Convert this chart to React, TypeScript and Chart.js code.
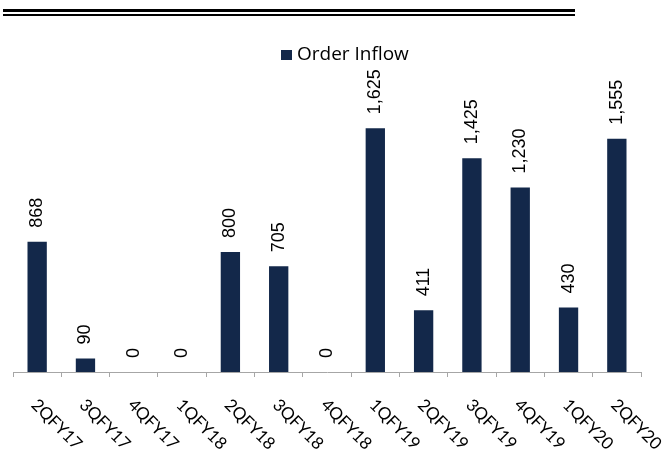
import React, { useEffect, useRef } from "react";
import { Chart, registerables } from "chart.js";

Chart.register(...registerables);

const categories = [
  "2QFY17", "3QFY17", "4QFY17", "1QFY18", "2QFY18", "3QFY18", "4QFY18",
  "1QFY19", "2QFY19", "3QFY19", "4QFY19", "1QFY20", "2QFY20",
];
const orderInflow = [868, 90, 0, 0, 800, 705, 0, 1625, 411, 1425, 1230, 430, 1555];
const seriesName = "Order Inflow";
const barColor = "#13284a";
const axisColor = "#a6a6a6";
const yMax = 2000;

const decorPlugin = {
  id: "decor",
  afterDraw(chart: any) {
    const ctx = chart.ctx;
    const xScale = chart.scales.x;
    const area = chart.chartArea;
    ctx.save();
    // top double rule
    ctx.fillStyle = "#000";
    ctx.fillRect(3, 9, 572, 3);
    ctx.fillRect(3, 14, 572, 2);

    // legend
    ctx.fillStyle = barColor;
    ctx.fillRect(281, 50, 11, 10);
    ctx.fillStyle = "#000";
    ctx.font = "19px 'Open Sans'";
    ctx.textAlign = "left";
    ctx.textBaseline = "alphabetic";
    ctx.fillText(seriesName, 297, 60);

    // data labels
    const meta = chart.getDatasetMeta(0);
    ctx.font = "18px 'Liberation Sans'";
    ctx.fillStyle = "#000";
    meta.data.forEach((el: any, i: number) => {
      const v = orderInflow[i];
      ctx.save();
      ctx.translate(el.x, el.y - 14);
      ctx.rotate(-Math.PI / 2);
      ctx.textAlign = "left";
      ctx.textBaseline = "middle";
      ctx.fillText(v.toLocaleString("en-US"), 0, 0);
      ctx.restore();
    });

    // category labels rotated 45deg clockwise
    ctx.font = "17px Lato";
    categories.forEach((c, i) => {
      const x = xScale.getPixelForTick(i);
      ctx.save();
      ctx.translate(x - 3, area.bottom + 30);
      ctx.rotate(Math.PI / 4);
      ctx.textAlign = "left";
      ctx.textBaseline = "middle";
      ctx.fillText(c, 0, 0);
      ctx.restore();
    });
    ctx.restore();
  },
};

export default function App() {
  const ref = useRef<HTMLCanvasElement | null>(null);
  useEffect(() => {
    if (!ref.current) return;
    const chart = new Chart(ref.current, {
      type: "bar",
      data: {
        labels: categories,
        datasets: [
          {
            label: seriesName,
            data: orderInflow,
            backgroundColor: barColor,
            barPercentage: 0.4,
            categoryPercentage: 1,
          },
        ],
      },
      options: {
        animation: false,
        responsive: false,
        maintainAspectRatio: false,
        layout: { padding: { top: 72, left: 13, right: 31, bottom: 0 } },
        plugins: {
          legend: { display: false },
          tooltip: { enabled: false },
        },
        scales: {
          x: {
            grid: {
              offset: true,
              drawOnChartArea: false,
              drawTicks: true,
              tickLength: 5,
              color: axisColor,
            },
            border: { display: true, color: axisColor, width: 1 },
            ticks: { display: false },
            afterFit: (scale: any) => {
              scale.height = 78;
            },
          },
          y: {
            display: false,
            min: 0,
            max: yMax,
          },
        },
      },
      plugins: [decorPlugin],
    });
    return () => chart.destroy();
  }, []);
  return (
    <div style={{ position: "fixed", left: 0, top: 0, width: 672, height: 450, background: "#fff" }}>
      <canvas ref={ref} width={672} height={450} style={{ display: "block" }} />
    </div>
  );
}
